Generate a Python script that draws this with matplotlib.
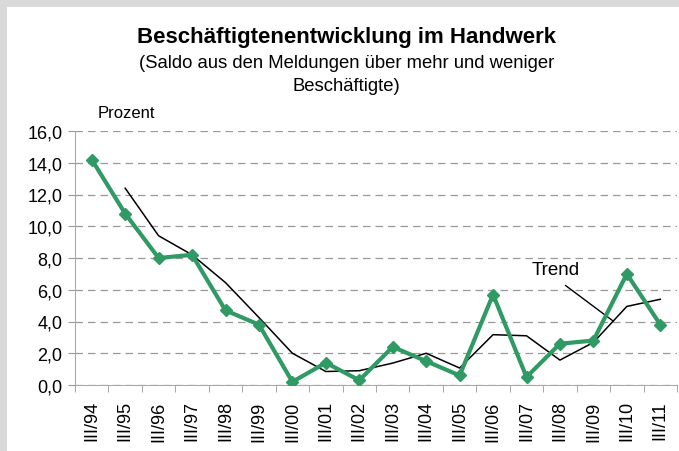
import matplotlib.pyplot as plt
from matplotlib.patches import Rectangle
import numpy as np

plt.rcParams['font.family'] = ['Liberation Sans', 'DejaVu Sans']

# Quartalswerte (jeweils III. Quartal)
quartale = ['III/94', 'III/95', 'III/96', 'III/97', 'III/98', 'III/99',
            'III/00', 'III/01', 'III/02', 'III/03', 'III/04', 'III/05',
            'III/06', 'III/07', 'III/08', 'III/09', 'III/10', 'III/11']
saldo = [14.2, 10.8, 8.0, 8.2, 4.7, 3.8, 0.2, 1.4, 0.3, 2.4, 1.5, 0.6,
         5.7, 0.5, 2.6, 2.8, 7.0, 3.8]
trend = [np.nan, 12.4, 9.4, 8.2, 6.45, 4.25, 2.0, 0.85, 0.9, 1.38, 2.0, 1.07,
         3.17, 3.1, 1.57, 2.68, 4.95, 5.4]
y_ticks = [0, 2, 4, 6, 8, 10, 12, 14, 16]

fig = plt.figure(figsize=(6.79, 4.52), dpi=100, facecolor='white')

# grauer Rahmen oben und links
fig.patches.append(Rectangle((0, 1 - 8 / 452), 1, 8 / 452, transform=fig.transFigure,
                             facecolor='#d9d9d9', edgecolor='none', zorder=0))
fig.patches.append(Rectangle((0, 0), 7 / 679, 1, transform=fig.transFigure,
                             facecolor='#d9d9d9', edgecolor='none', zorder=0))

ax = fig.add_axes([75 / 679, 1 - 386 / 452, 602 / 679, 254 / 452])

x = np.arange(len(quartale))
ax.plot(x, trend, color='black', linewidth=1.1, zorder=3)
ax.plot(x, saldo, color='#2f9a63', linewidth=3.0, marker='D', markersize=6.5, zorder=4)

ax.set_xlim(-0.5, len(quartale) - 0.5)
ax.set_ylim(0, 16)
ax.set_yticks(y_ticks)
ax.set_yticklabels([f'{v:.1f}'.replace('.', ',') for v in y_ticks], fontsize=13)
ax.set_xticks(x)
ax.set_xticklabels(quartale, rotation=90, fontsize=13)
ax.set_xticks(np.arange(len(quartale) + 1) - 0.5, minor=True)
ax.tick_params(axis='x', which='major', length=0, pad=11)
ax.tick_params(axis='x', which='minor', length=5, color='#999999')
ax.tick_params(axis='y', length=5, color='#999999', pad=4)

ax.grid(axis='y', linestyle=(0, (6, 4)), color='#999999', linewidth=0.9)
ax.set_axisbelow(True)
for side in ['top', 'right']:
    ax.spines[side].set_visible(False)
for side in ['left', 'bottom']:
    ax.spines[side].set_color('#aaaaaa')

ax.annotate('Trend', xy=(15.59, 4.03), xytext=(13.88, 7.3), fontsize=13.5,
            ha='center', va='center',
            arrowprops=dict(arrowstyle='-', color='black', linewidth=1,
                            relpos=(0.48, 0), shrinkA=6, shrinkB=0))

fig.text(0.51, 1 - 37 / 452, 'Beschäftigtenentwicklung im Handwerk',
         ha='center', va='center', fontsize=16, fontweight='bold')
fig.text(0.51, 1 - 75 / 452, '(Saldo aus den Meldungen über mehr und weniger\nBeschäftigte)',
         ha='center', va='center', fontsize=13.3, linespacing=1.45)
fig.text(98 / 679, 1 - 113 / 452, 'Prozent', ha='left', va='center', fontsize=12)

fig.savefig('out.png', dpi=100, facecolor='white')
